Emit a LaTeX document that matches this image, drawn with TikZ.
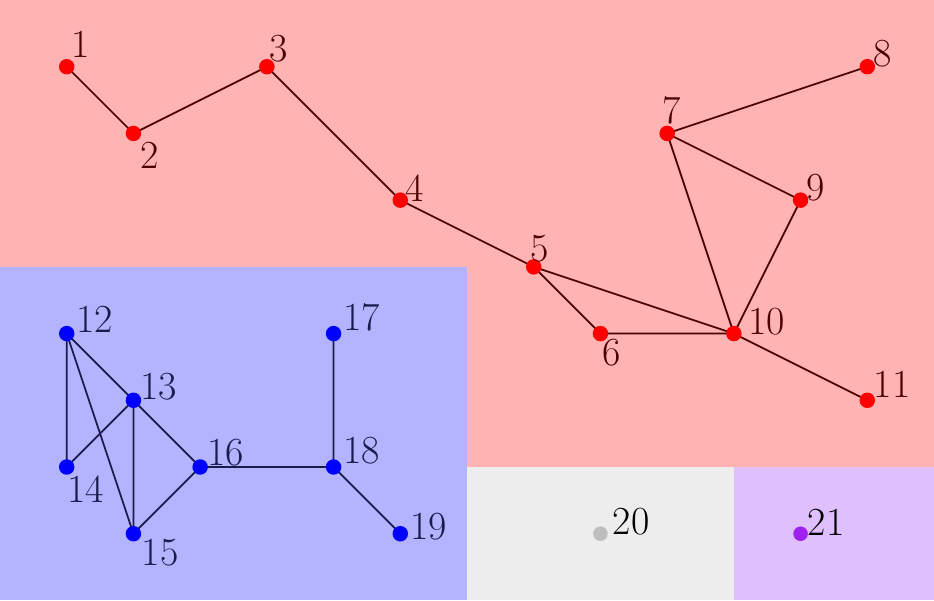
\documentclass[tikz,border=0pt]{standalone}
\usepackage{fontspec}
\definecolor{bgred}{RGB}{255,179,179}
\definecolor{bgblue}{RGB}{179,179,255}
\definecolor{bggray}{RGB}{237,237,237}
\definecolor{bgpurple}{RGB}{224,191,255}
\definecolor{ndred}{RGB}{255,0,0}
\definecolor{ndblue}{RGB}{0,0,255}
\definecolor{ndgray}{RGB}{190,190,190}
\definecolor{ndpurple}{RGB}{160,32,240}
\definecolor{txred}{RGB}{77,0,0}
\definecolor{txblue}{RGB}{26,26,77}
\tikzset{
  vtx/.style={circle, inner sep=0pt, minimum size=6.6pt},
  rv/.style={vtx, fill=ndred},
  bv/.style={vtx, fill=ndblue},
  lbl/.style={font=\fontsize{17}{20}\selectfont, inner sep=0pt},
  rl/.style={lbl, text=txred},
  bl/.style={lbl, text=txblue},
  re/.style={draw=txred, line width=0.75pt},
  be/.style={draw=txblue, line width=0.75pt},
}
\begin{document}
\begin{tikzpicture}
\useasboundingbox (0,0) rectangle (14,-9);
\fill[bgred] (0,0) rectangle (14,-9);
\fill[bgblue] (0,-4) rectangle (7,-9);
\fill[bggray] (7,-7) rectangle (11,-9);
\fill[bgpurple] (11,-7) rectangle (14,-9);
% positions
\coordinate (c1) at (1,-1);
\coordinate (c2) at (2,-2);
\coordinate (c3) at (4,-1);
\coordinate (c4) at (6,-3);
\coordinate (c5) at (8,-4);
\coordinate (c6) at (9,-5);
\coordinate (c7) at (10,-2);
\coordinate (c8) at (13,-1);
\coordinate (c9) at (12,-3);
\coordinate (c10) at (11,-5);
\coordinate (c11) at (13,-6);
\coordinate (c12) at (1,-5);
\coordinate (c13) at (2,-6);
\coordinate (c14) at (1,-7);
\coordinate (c15) at (2,-8);
\coordinate (c16) at (3,-7);
\coordinate (c17) at (5,-5);
\coordinate (c18) at (5,-7);
\coordinate (c19) at (6,-8);
% edges
\draw[re] (c1) -- (c2) (c2) -- (c3) (c3) -- (c4) (c4) -- (c5) (c5) -- (c6) (c5) -- (c10) (c6) -- (c10) (c7) -- (c8) (c7) -- (c9) (c7) -- (c10) (c9) -- (c10) (c10) -- (c11);
\draw[be] (c12) -- (c13) (c12) -- (c14) (c12) -- (c15) (c13) -- (c14) (c13) -- (c15) (c13) -- (c16) (c15) -- (c16) (c16) -- (c18) (c17) -- (c18) (c18) -- (c19);
% vertices
\foreach \i in {1,...,11} {\node[rv] (n\i) at (c\i) {};}
\foreach \i in {12,...,19} {\node[bv] (n\i) at (c\i) {};}
\node[vtx, fill=ndgray, minimum size=6.2pt] (n20) at (9,-8) {};
\node[vtx, fill=ndpurple, minimum size=6.2pt] (n21) at (12,-8) {};
% labels
\node[rl, anchor=south west] (l1) at ([shift={(0.07,0.13)}]n1.center) {1};
\node[rl, anchor=north west] (l2) at ([shift={(0.1,-0.12)}]n2.center) {2};
\node[rl, anchor=south west] (l3) at ([shift={(0.03,0.06)}]n3.center) {3};
\node[rl, anchor=south west] (l4) at ([shift={(0.07,-0.03)}]n4.center) {4};
\node[rl, anchor=south west] (l5) at ([shift={(-0.05,0.07)}]n5.center) {5};
\node[rl, anchor=north west] (l6) at ([shift={(0.02,-0.08)}]n6.center) {6};
\node[rl, anchor=south west] (l7) at ([shift={(-0.07,0.13)}]n7.center) {7};
\node[rl, anchor=south west] (l8) at ([shift={(0.08,-0.02)}]n8.center) {8};
\node[rl, anchor=south west] (l9) at ([shift={(0.08,-0.02)}]n9.center) {9};
\node[rl, anchor=south west] (l10) at ([shift={(0.21,-0.03)}]n10.center) {10};
\node[rl, anchor=south west] (l11) at ([shift={(0.09,0.03)}]n11.center) {11};
\node[bl, anchor=south west] (l12) at ([shift={(0.14,0.01)}]n12.center) {12};
\node[bl, anchor=south west] (l13) at ([shift={(0.1,0)}]n13.center) {13};
\node[bl, anchor=north west] (l14) at ([shift={(0,-0.12)}]n14.center) {14};
\node[bl, anchor=north west] (l15) at ([shift={(0.12,-0.08)}]n15.center) {15};
\node[bl, anchor=south west] (l16) at ([shift={(0.1,0.01)}]n16.center) {16};
\node[bl, anchor=south west] (l17) at ([shift={(0.14,0.03)}]n17.center) {17};
\node[bl, anchor=south west] (l18) at ([shift={(0.14,0.03)}]n18.center) {18};
\node[bl, anchor=south west] (l19) at ([shift={(0.14,-0.1)}]n19.center) {19};
\node[lbl, anchor=south west] (l20) at ([shift={(0.18,-0.03)}]n20.center) {20};
\node[lbl, anchor=south west] (l21) at ([shift={(0.1,-0.03)}]n21.center) {21};
\end{tikzpicture}
\end{document}
